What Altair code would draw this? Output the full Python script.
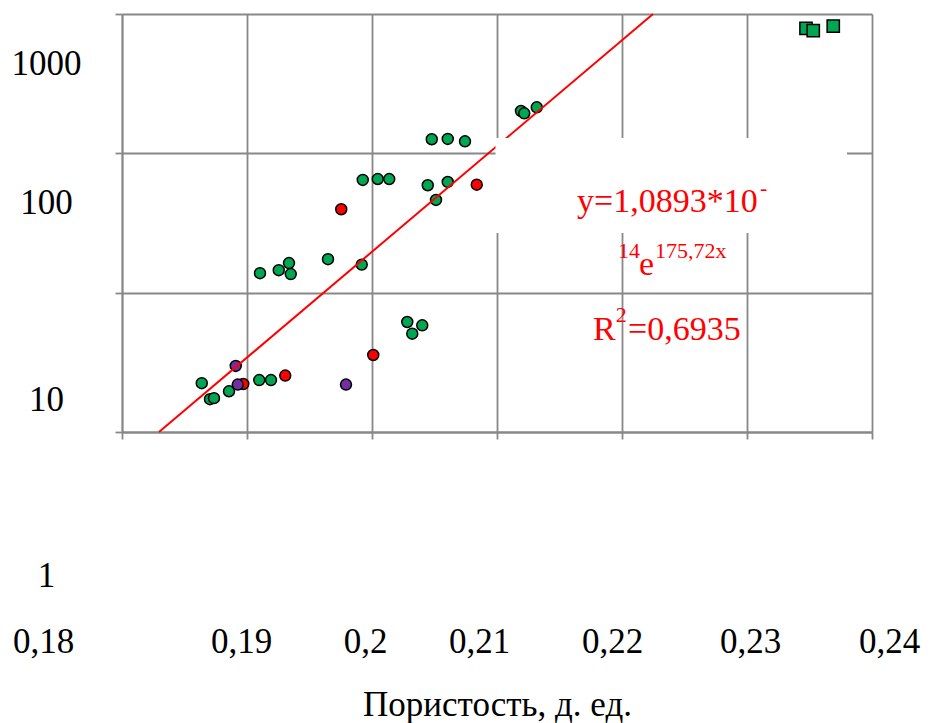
import altair as alt
import pandas as pd

# --- data ---
green_x = [0.20478, 0.20606, 0.20744, 0.21192, 0.21218, 0.21318, 0.19926, 0.20046, 0.20138,
           0.20446, 0.20606, 0.20512, 0.19104, 0.19254, 0.19336, 0.19350, 0.19648, 0.19918,
           0.20282, 0.20402, 0.20322, 0.18638, 0.18704, 0.18736, 0.18856, 0.19098, 0.19192]
green_y = [126.2, 126.8, 122.0, 201.3, 193.8, 214.0, 64.4, 65.4, 65.4,
           59.0, 62.3, 46.3, 13.8, 14.5, 16.3, 13.6, 17.4, 15.9,
           6.16, 5.83, 5.08, 2.24, 1.72, 1.75, 1.96, 2.36, 2.36]
red_x = [0.20838, 0.19754, 0.20010, 0.18970, 0.19306]
red_y = [59.6, 39.7, 3.57, 2.21, 2.54]
purple_x = [0.18910, 0.18926, 0.19792]
purple_y = [2.98, 2.19, 2.19]
square_x = [0.23472, 0.23530, 0.23690]
square_y = [790, 759, 820]

trend_x = [0.18296, 0.22248]
trend_y = [1, 1000]

x_ticks = [0.18, 0.19, 0.2, 0.21, 0.22, 0.23, 0.24]
y_ticks = [1, 10, 100, 1000]

eq_text = ["y=1,0893*10", "-", "14", "e", "175,72x", "R", "2", "=0,6935"]
eq_x = [0.21640, 0.23104, 0.21968, 0.22136, 0.22264, 0.21768, 0.21950, 0.22048]
eq_y = [37.9, 50.2, 17.74, 13.39, 17.74, 4.575, 6.16, 4.575]
eq_size = [34, 22, 22, 34, 22, 34, 22, 34]

box_x = [0.20988]
box_x2 = [0.23800]
box_y = [26.8]
box_y2 = [128.8]

# --- tables ---
pts = pd.DataFrame({
    "x": green_x + red_x + purple_x + square_x,
    "y": green_y + red_y + purple_y + square_y,
    "fill": ["#00a651"] * len(green_x) + ["#ff0000"] * len(red_x)
            + ["#7030a0"] * len(purple_x) + ["#00a651"] * len(square_x),
    "shape": ["circle"] * (len(green_x) + len(red_x) + len(purple_x)) + ["square"] * len(square_x),
    "size": [120] * (len(green_x) + len(red_x) + len(purple_x)) + [150] * len(square_x),
})
trend = pd.DataFrame({"x": trend_x, "y": trend_y})
eq = pd.DataFrame({"x": eq_x, "y": eq_y, "t": eq_text, "fs": eq_size})
box = pd.DataFrame({"x": box_x, "x2": box_x2, "y": box_y, "y2": box_y2})

GRID = "#888888"
FONT = "Liberation Serif"

x_axis = alt.Axis(
    values=x_ticks,
    labelExpr="replace(toString(datum.value), '.', ',')",
    labelFont=FONT, labelFontSize=35, labelColor="black",
    labelOffset=alt.ExprRef(
        "datum.value < 0.185 ? -79 : datum.value < 0.195 ? -6 : datum.value < 0.205 ? -7 : "
        "datum.value < 0.215 ? -18 : datum.value < 0.225 ? -10 : datum.value < 0.235 ? 3 : 17"
    ),
    labelPadding=213, labelBaseline="alphabetic",
    labelFlush=False, labelOverlap=False,
    tickSize=7, tickColor=GRID, tickWidth=1.8,
    domainColor=GRID, domainWidth=1.8,
    grid=True, gridColor=GRID, gridWidth=1.8,
    title="Пористость, д. ед.", titleFont=FONT, titleFontSize=35,
    titleFontWeight="normal", titleColor="black",
    titleY=283, titleBaseline="alphabetic", zindex=0,
)
y_axis = alt.Axis(
    values=y_ticks,
    labelExpr="toString(datum.value)",
    labelFont=FONT, labelFontSize=35, labelColor="black",
    labelAlign="center", labelBaseline="alphabetic", labelPadding=69,
    labelOffset=alt.ExprRef("datum.value == 1 ? 154 : (datum.value == 10 ? 118 : 60)"),
    labelFlush=False, labelOverlap=False,
    tickSize=7, tickColor=GRID, tickWidth=1.8,
    domainColor=GRID, domainWidth=1.8,
    grid=True, gridColor=GRID, gridWidth=1.8,
    title=None, zindex=0,
)

X = alt.X("x:Q", scale=alt.Scale(domain=[0.18, 0.24], nice=False, zero=False), axis=x_axis)
Y = alt.Y("y:Q", scale=alt.Scale(type="log", domain=[1, 1000], nice=False), axis=y_axis)

points = alt.Chart(pts).mark_point(filled=True, stroke="black", strokeWidth=1.5, opacity=1).encode(
    x=X, y=Y,
    fill=alt.Fill("fill:N", scale=None),
    shape=alt.Shape("shape:N", scale=None),
    size=alt.Size("size:Q", scale=None),
)

line = alt.Chart(trend).mark_line(color="#ff0000", strokeWidth=2).encode(x=X, y=Y)

rect = alt.Chart(box).mark_rect(color="white", opacity=1).encode(
    x=X, x2="x2:Q", y=Y, y2="y2:Q"
)

text = alt.Chart(eq).mark_text(
    align="left", baseline="alphabetic", font=FONT, color="#ff0000"
).encode(
    x=X, y=Y, text="t:N", size=alt.Size("fs:Q", scale=None)
)

chart = alt.layer(points, line, rect, text).properties(
    width=750, height=418,
    autosize=alt.AutoSizeParams(type="none"),
    padding={"left": 114, "top": 6, "right": 50, "bottom": 294},
    background="white",
).configure_view(stroke=None)

chart.save("out.html", embed_options={"renderer": "svg", "actions": False})
